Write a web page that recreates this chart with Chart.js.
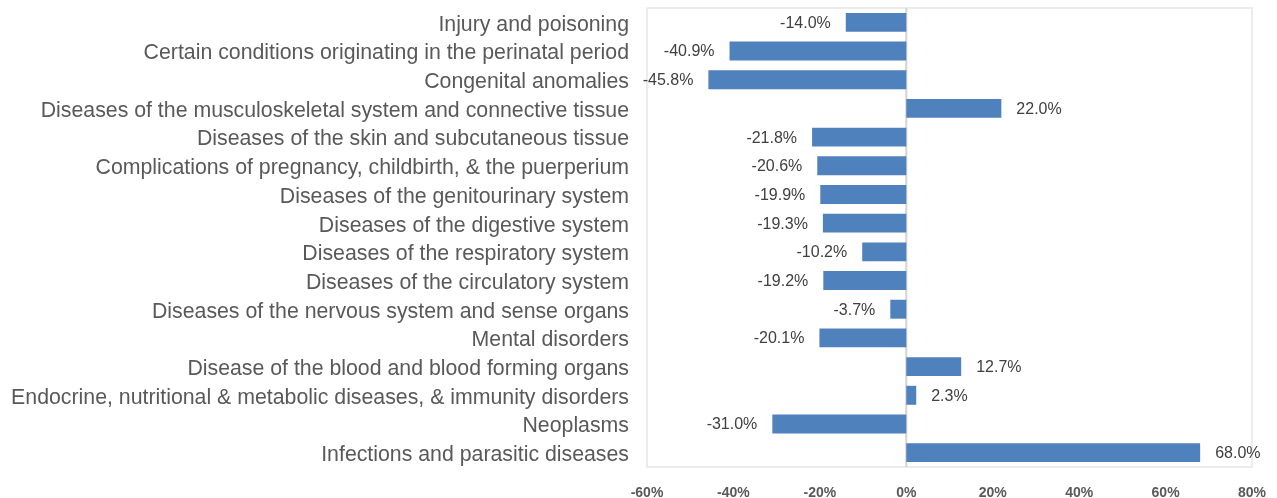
<!DOCTYPE html>
<html>
<head>
<meta charset="utf-8">
<script src="https://cdn.jsdelivr.net/npm/chart.js@4/dist/chart.umd.min.js"></script>
<style>
html,body{margin:0;padding:0;background:#fff;}
#wrap{width:1277px;height:498px;position:relative;}
</style>
</head>
<body>
<div id="wrap"><canvas id="c" width="1277" height="498"></canvas></div>
<script>
const categories = [
  "Injury and poisoning",
  "Certain conditions originating in the perinatal period",
  "Congenital anomalies",
  "Diseases of the musculoskeletal system and connective tissue",
  "Diseases of the skin and subcutaneous tissue",
  "Complications of pregnancy, childbirth, & the puerperium",
  "Diseases of the genitourinary system",
  "Diseases of the digestive system",
  "Diseases of the respiratory system",
  "Diseases of the circulatory system",
  "Diseases of the nervous system and sense organs",
  "Mental disorders",
  "Disease of the blood and blood forming organs",
  "Endocrine, nutritional & metabolic diseases, & immunity disorders",
  "Neoplasms",
  "Infections and parasitic diseases"
];
const changePct = [-14.0, -40.9, -45.8, 22.0, -21.8, -20.6, -19.9, -19.3, -10.2, -19.2, -3.7, -20.1, 12.7, 2.3, -31.0, 68.0];
const xTicks = [-60, -40, -20, 0, 20, 40, 60, 80];

const frame = {
  id: 'frame',
  beforeDatasetsDraw(chart) {
    const a = chart.chartArea, ctx = chart.ctx;
    ctx.save();
    ctx.strokeStyle = '#e6e6e6';
    ctx.lineWidth = 1.5;
    ctx.strokeRect(a.left, a.top, a.right - a.left, a.bottom - a.top);
    const x0 = chart.scales.x.getPixelForValue(0);
    ctx.strokeStyle = '#d4d4d4';
    ctx.lineWidth = 2;
    ctx.beginPath(); ctx.moveTo(x0, a.top); ctx.lineTo(x0, a.bottom); ctx.stroke();
    ctx.restore();
  }
};

const labels = {
  id: 'valueLabels',
  afterDatasetsDraw(chart) {
    const ctx = chart.ctx;
    const meta = chart.getDatasetMeta(0);
    ctx.save();
    ctx.font = '16px "Liberation Sans", Arial, sans-serif';
    ctx.fillStyle = '#404040';
    ctx.textBaseline = 'middle';
    meta.data.forEach((bar, i) => {
      const v = changePct[i];
      const txt = v.toFixed(1) + '%';
      if (v < 0) { ctx.textAlign = 'right'; ctx.fillText(txt, bar.x - 15, bar.y + 1); }
      else { ctx.textAlign = 'left'; ctx.fillText(txt, bar.x + 15, bar.y + 1); }
    });
    ctx.restore();
  }
};

new Chart(document.getElementById('c'), {
  type: 'bar',
  data: {
    labels: categories,
    datasets: [{
      data: changePct,
      backgroundColor: '#4f81bd',
      borderWidth: 0,
      barPercentage: 0.66,
      categoryPercentage: 1
    }]
  },
  options: {
    indexAxis: 'y',
    responsive: false,
    animation: false,
    layout: { padding: { top: 8, right: 25, left: 0, bottom: 0 } },
    plugins: { legend: { display: false }, tooltip: { enabled: false } },
    scales: {
      x: {
        min: -60, max: 80,
        afterBuildTicks(scale) { scale.ticks = xTicks.map(v => ({ value: v })); },
        afterFit(scale) { scale.height = 31; scale.paddingLeft = 0; scale.paddingRight = 0; },
        grid: { display: false, drawTicks: false },
        border: { display: false },
        ticks: {
          padding: 18,
          color: '#595959',
          font: { family: '"Liberation Sans Narrow", "Liberation Sans", Arial', size: 14, weight: 'bold' },
          callback: v => v + '%'
        }
      },
      y: {
        afterFit(scale) { scale.width = 647; scale.paddingTop = 0; scale.paddingBottom = 0; },
        grid: { display: false, drawTicks: false },
        border: { display: false },
        ticks: {
          padding: 18,
          labelOffset: 2.5,
          color: '#595959',
          font: { family: '"Liberation Sans", Arial', size: 21.3 }
        }
      }
    }
  },
  plugins: [frame, labels]
});
</script>
</body>
</html>
